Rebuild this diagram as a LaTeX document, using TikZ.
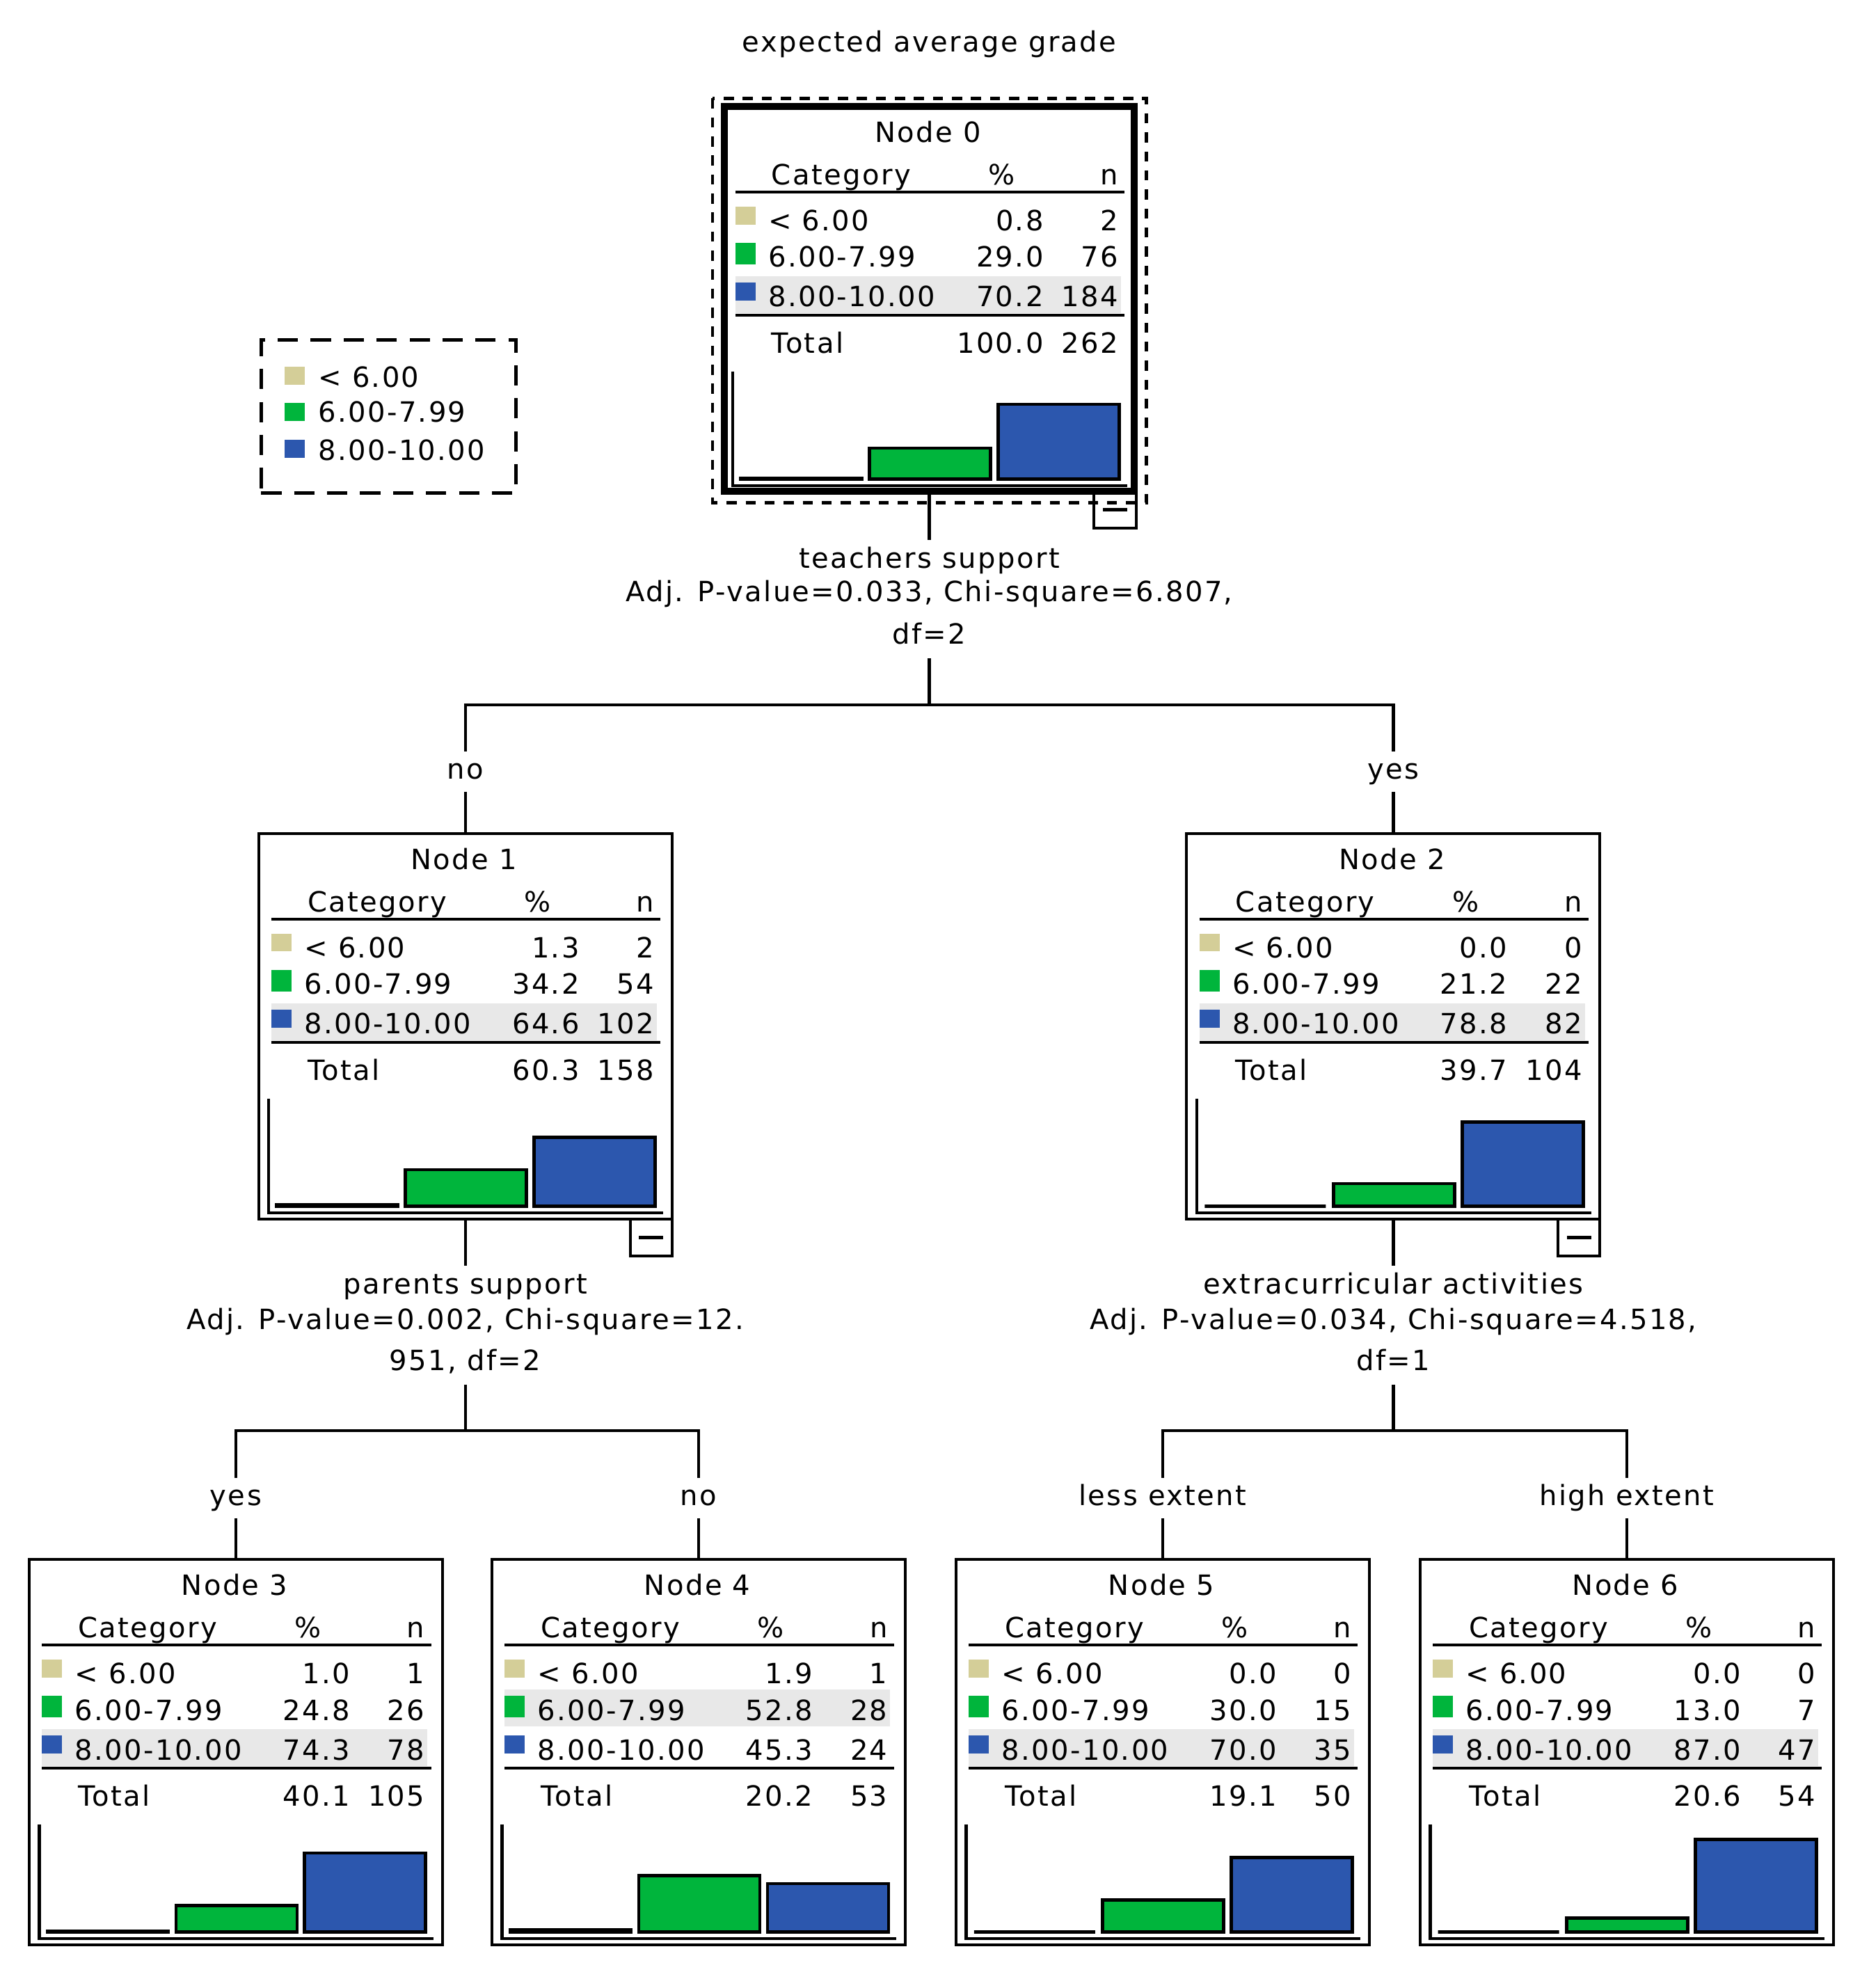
\documentclass[tikz,border=0pt]{standalone}
\usepackage{fontspec}
\setmainfont{DejaVu Sans}[LetterSpace=6]
\definecolor{cbeige}{RGB}{212,206,152}
\definecolor{cgreen}{RGB}{0,181,60}
\definecolor{cblue}{RGB}{44,87,174}
\definecolor{chl}{RGB}{232,232,232}
\tikzset{
  ct/.style={font=\fontsize{22}{26}\selectfont, inner sep=0pt, outer sep=0pt},
  ctbox/.style={draw, line width=2.2pt, minimum width=326pt, minimum height=304pt, inner sep=0pt, outer sep=0pt, anchor=north},
  tblrule/.style={line width=2.2pt},
  axisline/.style={line width=2.4pt},
  barbox/.style={draw=black, line width=2.5pt},
  conn/.style={line width=2.4pt},
  brlabel/.style={ct, text height=16pt, text depth=4pt, inner ysep=6pt, anchor=base},
  splitline/.style={ct, text height=16pt, text depth=5pt, inner ysep=6pt, anchor=base},
  togglebox/.style={draw, line width=2.2pt, minimum width=33pt, minimum height=29pt, inner sep=0pt, outer sep=0pt, anchor=north east},
  legendbox/.style={draw, line width=2.6pt, dash pattern=on 16pt off 10pt, minimum width=201pt, minimum height=121pt, inner sep=0pt},
  selbox/.style={draw, line width=2.6pt, dash pattern=on 8pt off 7pt},
}
\newcommand\ctnode[9]{%
  \node[ctbox,#9] (#1) at (#2,#3) {};
  \begin{scope}[shift={(#2-163,#3)}]
    \ifcase#5\or
      \fill[chl] (10,74) rectangle (314,103);
    \or
      \fill[chl] (10,102.7) rectangle (314,131.7);
    \or
      \fill[chl] (10,134) rectangle (314,163);
    \fi
    \node[ct,anchor=base] (#1-title) at (162,28) {Node #4};
    \node[ct,anchor=base west] (#1-hc) at (38.6,61.7) {Category};
    \node[ct,anchor=base] (#1-hp) at (220,61.7) {\%};
    \node[ct,anchor=base east] (#1-hn) at (312,61.7) {n};
    \draw[tblrule] (10,67.5) -- (317,67.5);
    \draw[tblrule] (10,164.5) -- (317,164.5);
    \foreach \p/\n [count=\i] in {#6} {
      \ifcase\i\or
        \def\rb{98}\def\rcol{cbeige}\def\rlab{< 6.00}\def\swb{5}%
      \or
        \def\rb{126.7}\def\rcol{cgreen}\def\rlab{6.00-7.99}\def\swb{2}%
      \or
        \def\rb{158}\def\rcol{cblue}\def\rlab{8.00-10.00}\def\swb{5}%
      \fi
      \fill[fill=\rcol] (10,\rb-19) rectangle (26,\rb-\swb);
      \node[ct,anchor=base west] (#1-l\i) at (36,\rb) {\rlab};
      \node[ct,anchor=base east] (#1-p\i) at (253,\rb) {\p};
      \node[ct,anchor=base east] (#1-n\i) at (312,\rb) {\n};
      \filldraw[barbox,fill=\rcol] ({14.25+101.5*(\i-1)},293.8) rectangle ({109.75+101.5*(\i-1)},{293.8-0.84*\p});
    }
    \node[ct,anchor=base west] (#1-tl) at (38.6,194.4) {Total};
    \node[ct,anchor=base east] (#1-tp) at (253,194.4) {#7};
    \node[ct,anchor=base east] (#1-tn) at (312,194.4) {#8};
    \draw[axisline] (8,209) -- (8,299) -- (319,299);
  \end{scope}
}
\begin{document}
\begin{tikzpicture}[x=1pt,y=-1pt]
\useasboundingbox (0,0) rectangle (1474,1568);
\fill[white] (0,0) rectangle (1474,1568);

\node[ct,anchor=base] (title) at (733,41) {expected average grade};

% legend
\node[legendbox] (legend) at (306.5,328.5) {};
\fill[cbeige] (224.5,289) rectangle (240.5,303.5);
\fill[cgreen] (224.5,317.7) rectangle (240.5,332);
\fill[cblue] (224.5,347) rectangle (240.5,361);
\node[ct,anchor=base west] (leg1) at (251,305.6) {< 6.00};
\node[ct,anchor=base west] (leg2) at (251,333) {6.00-7.99};
\node[ct,anchor=base west] (leg3) at (251,363) {8.00-10.00};

% nodes
\draw[selbox] (562,77.6) rectangle (904,396.5);
\ctnode{n0}{733}{84}{0}{3}{0.8/2,29.0/76,70.2/184}{100.0}{262}{line width=5.5pt,minimum width=323pt,minimum height=303.5pt}
\ctnode{n1}{367}{657.5}{1}{3}{1.3/2,34.2/54,64.6/102}{60.3}{158}{}
\ctnode{n2}{1099}{657.5}{2}{3}{0.0/0,21.2/22,78.8/82}{39.7}{104}{}
\ctnode{n3}{186}{1230}{3}{3}{1.0/1,24.8/26,74.3/78}{40.1}{105}{}
\ctnode{n4}{551}{1230}{4}{2}{1.9/1,52.8/28,45.3/24}{20.2}{53}{}
\ctnode{n5}{917}{1230}{5}{3}{0.0/0,30.0/15,70.0/35}{19.1}{50}{}
\ctnode{n6}{1283}{1230}{6}{3}{0.0/0,13.0/7,87.0/47}{20.6}{54}{}

\node[togglebox] (n0-tog) at ([xshift=1.5pt]n0.south east) {\rule{19pt}{2.5pt}};
\node[togglebox] (n1-tog) at (n1.south east) {\rule{19pt}{2.5pt}};
\node[togglebox] (n2-tog) at (n2.south east) {\rule{19pt}{2.5pt}};

% split labels
\node[splitline] (s0a) at (733,448) {teachers support};
\node[splitline] (s0b) at (733,474.7) {Adj. P-value=0.033, Chi-square=6.807,};
\node[splitline] (s0c) at (733,508.2) {df=2};
\node[splitline] (s1a) at (367,1020.5) {parents support};
\node[splitline] (s1b) at (367,1048.5) {Adj. P-value=0.002, Chi-square=12.};
\node[splitline] (s1c) at (367,1081) {951, df=2};
\node[splitline] (s2a) at (1099,1020.5) {extracurricular activities};
\node[splitline] (s2b) at (1099,1048.5) {Adj. P-value=0.034, Chi-square=4.518,};
\node[splitline] (s2c) at (1099,1081) {df=1};

% branch labels
\node[brlabel] (b1) at (367,614.5) {no};
\node[brlabel] (b2) at (1099,614.5) {yes};
\node[brlabel] (b3) at (186,1187.5) {yes};
\node[brlabel] (b4) at (551,1187.5) {no};
\node[brlabel] (b5) at (917,1187.5) {less extent};
\node[brlabel] (b6) at (1283,1187.5) {high extent};

\coordinate (j0) at (733,555.8);
\coordinate (j1) at (367,1128.5);
\coordinate (j2) at (1099,1128.5);

% connectors
\draw[conn] (n0.south) -- (s0a.north);
\draw[conn] (s0c.south) -- (j0);
\draw[conn] (b1.north) |- (j0) -| (b2.north);
\draw[conn] (b1.south) -- (n1.north);
\draw[conn] (b2.south) -- (n2.north);

\draw[conn] (n1.south) -- (s1a.north);
\draw[conn] (s1c.south) -- (j1);
\draw[conn] (b3.north) |- (j1) -| (b4.north);
\draw[conn] (b3.south) -- (n3.north);
\draw[conn] (b4.south) -- (n4.north);

\draw[conn] (n2.south) -- (s2a.north);
\draw[conn] (s2c.south) -- (j2);
\draw[conn] (b5.north) |- (j2) -| (b6.north);
\draw[conn] (b5.south) -- (n5.north);
\draw[conn] (b6.south) -- (n6.north);
\end{tikzpicture}
\end{document}
